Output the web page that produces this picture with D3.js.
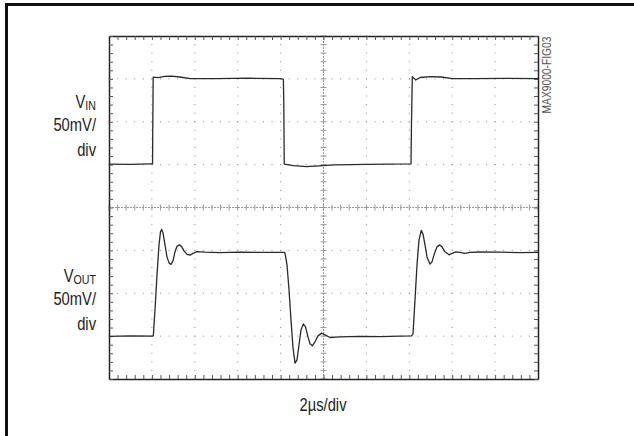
<!DOCTYPE html>
<html>
<head>
<meta charset="utf-8">
<script src="https://cdn.jsdelivr.net/npm/d3@7"></script>
<style>
  html, body { margin: 0; padding: 0; background: #fff; }
  svg text { font-family: "Liberation Sans", Arial, sans-serif; fill: #222; }
</style>
</head>
<body>
<svg id="scope" width="634" height="436"></svg>
<script>
// Time axis (µs) and screen voltage (mV, 50 mV/div, 0 at screen centre)
const timeDomain = [0, 20];
const voltDomain = [-200, 200];
const majorTimes = [0, 2, 4, 6, 8, 10, 12, 14, 16, 18, 20];
const majorVolts = [-200, -150, -100, -50, 0, 50, 100, 150, 200];

// Input step trace
const vinTime = [0, 1.0, 1.9, 2.03, 2.04, 2.06, 2.3, 2.6, 2.9, 3.3, 3.8, 5.0, 6.5, 8.0, 8.13, 8.15, 8.17,
  8.6, 9.2, 9.8, 10.5, 12.0, 14.08, 14.1, 14.14, 14.3, 14.5, 15.0, 15.5, 16.0, 17.0, 18.5, 20.0];
const vinMv = [50.5, 50.2, 50.8, 50.8, 90, 152.0, 151.5, 152.8, 153.2, 152.2, 150.4, 150.4, 150.8, 150.2, 149.5, 120, 50.5,
  48.9, 47.7, 48.5, 49.6, 50.4, 50.8, 95, 152.6, 148.7, 151.6, 152.6, 152.2, 150.4, 150.2, 150.6, 150.2];

// Comparator output trace with ringing
const voutTime = [0, 1.0, 2.0, 2.065, 2.145, 2.238, 2.331, 2.401, 2.457, 2.517, 2.611, 2.704, 2.797, 2.890, 2.984,
  3.077, 3.170, 3.277, 3.380, 3.497, 3.636, 3.776, 3.916, 4.103, 4.476, 5.175, 6.107, 7.040, 8.159,
  8.205, 8.299, 8.392, 8.485, 8.578, 8.672, 8.765, 8.858, 8.951, 9.058, 9.161, 9.277, 9.371, 9.478,
  9.604, 9.744, 9.916, 10.070, 10.303, 10.769, 11.702, 12.634, 13.567, 14.103,
  14.173, 14.266, 14.359, 14.452, 14.559, 14.638, 14.732, 14.825, 14.965, 15.058, 15.152, 15.291,
  15.417, 15.524, 15.664, 15.851, 15.991, 16.177, 16.364, 16.597, 16.830, 17.296, 18.228, 19.161, 20.0];
const voutMv = [-150.2, -149.8, -150.0, -149.7, -119.3, -78.6, -43.6, -28.4, -25.5, -29.6, -43.6, -57.6, -64.6, -66.3, -62.2,
  -51.7, -45.3, -43.6, -45.3, -50.6, -54.7, -55.6, -53.5, -51.5, -52.1, -52.6, -52.0, -52.4, -52.3,
  -53.3, -66.9, -96.0, -131.0, -163.6, -181.5, -177.6, -160.1, -142.7, -135.7, -139.2, -150.8, -159.0, -161.3,
  -156.6, -149.7, -146.5, -148.5, -151.6, -150.8, -150.2, -150.6, -149.9, -149.7,
  -147.3, -107.7, -66.9, -37.8, -26.7, -30.8, -43.6, -57.6, -66.1, -63.4, -55.2, -45.9,
  -43.6, -45.9, -51.7, -55.2, -53.5, -51.7, -52.3, -53.5, -52.3, -51.9, -52.0, -52.6, -52.4];

const svg = d3.select("#scope");

// Page frame
svg.append("rect")
  .attr("x", 6.5).attr("y", 4.5)
  .attr("width", 700).attr("height", 500)
  .attr("fill", "none").attr("stroke", "#111").attr("stroke-width", 3);

const x = d3.scaleLinear().domain(timeDomain).range([109, 538]);
const y = d3.scaleLinear().domain(voltDomain).range([379, 36]);

const minorTimes = d3.range(0, 50 + 1).map(i => i * 0.4);
const minorVolts = d3.range(0, 40 + 1).map(i => -200 + i * 10);

// Dotted graticule: a dot at every minor division along each major line
const grid = svg.append("g").attr("fill", "#8a8a8a");
majorVolts.filter(v => v !== 0 && Math.abs(v) !== 200).forEach(v => {
  grid.selectAll(null).data(minorTimes).join("rect")
    .attr("x", t => x(t) - 0.5).attr("y", y(v) - 0.5)
    .attr("width", 1).attr("height", 1);
});
majorTimes.filter(t => t !== 10 && t !== 0 && t !== 20).forEach(t => {
  grid.selectAll(null).data(minorVolts).join("rect")
    .attr("x", x(t) - 0.5).attr("y", v => y(v) - 0.5)
    .attr("width", 1).attr("height", 1);
});

// Centre cross, finely dashed with minor ticks
const cross = svg.append("g").attr("stroke", "#999").attr("stroke-width", 1).attr("fill", "none");
cross.append("line")
  .attr("x1", x(0)).attr("x2", x(20)).attr("y1", y(0)).attr("y2", y(0))
  .attr("stroke-dasharray", "2,1");
cross.append("line")
  .attr("x1", x(10)).attr("x2", x(10)).attr("y1", y(-200)).attr("y2", y(200))
  .attr("stroke-dasharray", "2,1");
cross.selectAll(null).data(minorTimes).join("line")
  .attr("x1", t => x(t)).attr("x2", t => x(t))
  .attr("y1", y(0) - 3).attr("y2", y(0) + 3);
cross.selectAll(null).data(minorVolts).join("line")
  .attr("y1", v => y(v)).attr("y2", v => y(v))
  .attr("x1", x(10) - 3).attr("x2", x(10) + 3);

// Frame with inward minor ticks
function frameAxis(axis, tr) {
  const g = svg.append("g").attr("transform", tr)
    .call(axis.tickFormat("").tickSizeOuter(0));
  g.select(".domain").attr("stroke", "#222").attr("stroke-width", 1.5);
  g.selectAll(".tick line").attr("stroke", "#555");
  return g;
}
frameAxis(d3.axisBottom(x).tickValues(minorTimes).tickSizeInner(-4), `translate(0,${y(-200)})`);
frameAxis(d3.axisTop(x).tickValues(minorTimes).tickSizeInner(-4), `translate(0,${y(200)})`);
frameAxis(d3.axisLeft(y).tickValues(minorVolts).tickSizeInner(-4), `translate(${x(0)},0)`);
frameAxis(d3.axisRight(y).tickValues(minorVolts).tickSizeInner(-4), `translate(${x(20)},0)`);

// Traces
const line = d3.line().x(d => x(d[0])).y(d => y(d[1]));
svg.append("path")
  .attr("d", line(d3.zip(vinTime, vinMv)))
  .attr("fill", "none").attr("stroke", "#2a2a2a").attr("stroke-width", 1.3)
  .attr("stroke-linejoin", "round");
svg.append("path")
  .attr("d", line(d3.zip(voutTime, voutMv)))
  .attr("fill", "none").attr("stroke", "#2a2a2a").attr("stroke-width", 1.3)
  .attr("stroke-linejoin", "round");

// Condensed text: regular sans squeezed horizontally
const narrow = 0.82;
function narrowText(px, py, size, anchor) {
  return svg.append("text")
    .attr("transform", `translate(${px},${py}) scale(${narrow},1)`)
    .attr("font-size", size).attr("text-anchor", anchor);
}

// Channel labels
function channelLabel(sub, top) {
  const t = narrowText(96, top, 18, "end");
  t.append("tspan").text("V");
  t.append("tspan").attr("font-size", 13).attr("dy", 2).text(sub);
  narrowText(96, top + 23.5, 18, "end").text("50mV/");
  narrowText(96, top + 48, 18, "end").text("div");
}
channelLabel("IN", 107.5);
channelLabel("OUT", 281.5);

narrowText(323, 411, 18, "middle").text("2µs/div");

svg.append("text")
  .attr("transform", `translate(551,75) rotate(-90) scale(${narrow},1)`)
  .attr("text-anchor", "middle").attr("font-size", 12.5)
  .style("fill", "#555")
  .text("MAX9000-FIG03");
</script>
</body>
</html>
